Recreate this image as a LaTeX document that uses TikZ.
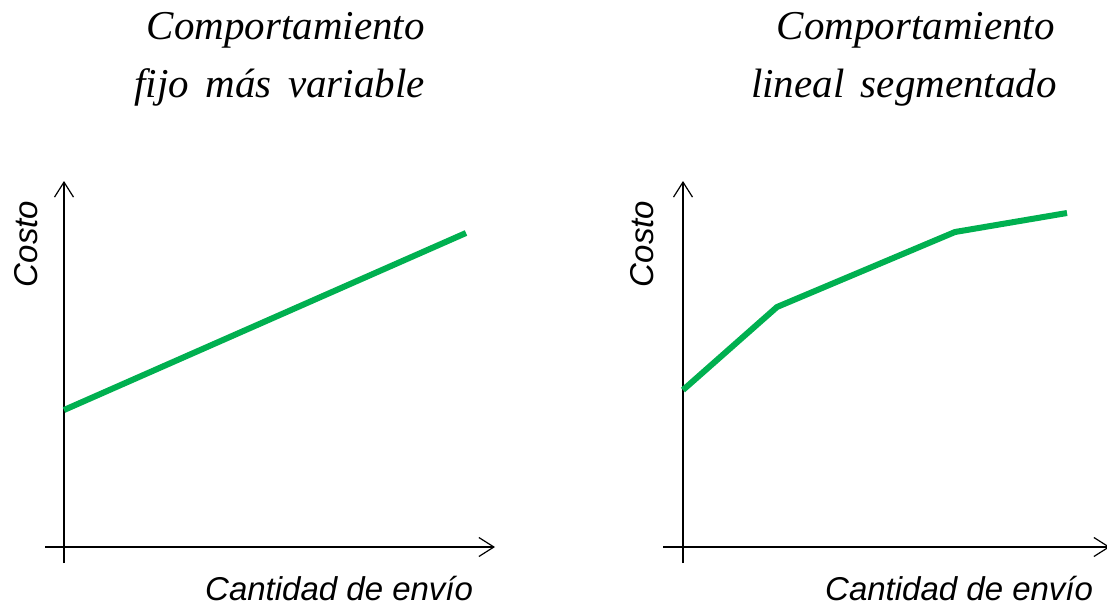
\documentclass[tikz,border=0pt]{standalone}
\usepackage{fontspec}
\setmainfont{Liberation Serif}
\newfontfamily\arialf{Liberation Sans}
\usetikzlibrary{arrows.meta}
\definecolor{lgreen}{HTML}{00B050}
\newcommand{\mytitlefont}{\fontsize{41}{41}\selectfont\itshape\spaceskip=16.5pt plus 0pt minus 0pt\relax}
\tikzset{
  axisline/.style={line width=1.2pt, black, -{Straight Barb[length=15pt,width=19pt,line width=1.2pt]}},
  costline/.style={line width=6pt, lgreen},
  titletext/.style={font=\mytitlefont, anchor=base east, inner sep=0pt},
  labeltext/.style={font=\arialf\fontsize{33}{33}\selectfont\itshape, inner sep=0pt},
}
\begin{document}
\begin{tikzpicture}[x=1pt,y=-1pt]
\useasboundingbox (0,0) rectangle (1107,607);
% titles
\node[titletext] (t1a) at (425,40) {Comportamiento};
\node[titletext] (t1b) at (425,98) {fijo más variable};
\node[titletext] (t2a) at (1055,40) {Comportamiento};
\node[titletext] (t2b) at (1057,98) {lineal segmentado};
% left chart
\coordinate (ly0) at (64,563);
\coordinate (ly1) at (64,181);
\coordinate (lx0) at (45,547);
\coordinate (lx1) at (495,547);
\draw[axisline] (ly0) -- (ly1);
\draw[axisline] (lx0) -- (lx1);
\coordinate (la) at (64,410);
\coordinate (lb) at (466,233);
\draw[costline] (la) -- (lb);
\node[labeltext, rotate=90, anchor=base] (lc) at (37,244) {Costo};
\node[labeltext, anchor=base west] (lq) at (205,600) {Cantidad de envío};
% right chart
\coordinate (ry0) at (683,563);
\coordinate (ry1) at (683,181);
\coordinate (rx0) at (663,547);
\coordinate (rx1) at (1110,547);
\draw[axisline] (ry0) -- (ry1);
\draw[axisline] (rx0) -- (rx1);
\coordinate (ra) at (683,390);
\coordinate (rb) at (777,307);
\coordinate (rc) at (955,232);
\coordinate (rd) at (1067,213);
\draw[costline] (ra) -- (rb) -- (rc) -- (rd);
\node[labeltext, rotate=90, anchor=base] (rcst) at (653,244) {Costo};
\node[labeltext, anchor=base west] (rq) at (825,600) {Cantidad de envío};
\end{tikzpicture}
\end{document}
